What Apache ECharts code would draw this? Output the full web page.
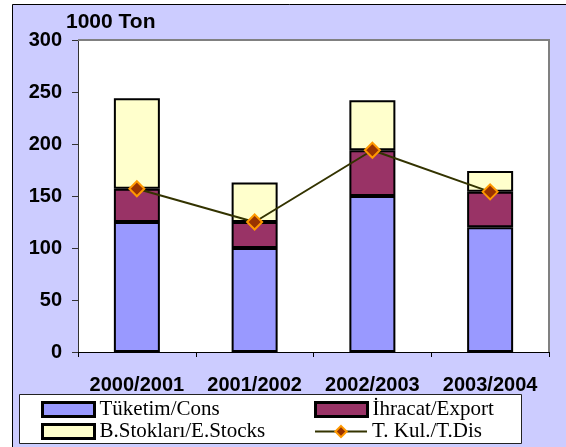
<!DOCTYPE html>
<html>
<head>
<meta charset="utf-8">
<script src="https://cdn.jsdelivr.net/npm/echarts@6/dist/echarts.min.js"></script>
<style>
html,body{margin:0;padding:0;background:#fff;}
#c{width:566px;height:447px;}
</style>
</head>
<body>
<div id="c"></div>
<script>
const categories = ['2000/2001', '2001/2002', '2002/2003', '2003/2004'];
const consumption = [125, 100, 150, 120];
const exportVals = [32, 25, 44, 34];
const stocks = [87, 38, 48, 20];
const totalDis = [157, 125, 194, 154];
const yTicks = [0, 50, 100, 150, 200, 250, 300];
const seriesNames = ['Tüketim/Cons', 'İhracat/Export', 'B.Stokları/E.Stocks', 'T. Kul./T.Dis'];

const chart = echarts.init(document.getElementById('c'), null, {renderer: 'canvas'});

const legendFont = {fontFamily: 'Liberation Serif', fontSize: 21, color: '#000'};
function mkLegend(name, left, top, isBar) {
  const l = {
    data: [isBar ? {name: name, icon: 'rect'} : name], left: left, top: top, padding: 0,
    itemWidth: 52, itemHeight: 14, itemGap: 0,
    textStyle: legendFont, selectedMode: false
  };
  if (isBar) l.itemStyle = {borderColor: '#000', borderWidth: 3};
  return l;
}
const barStyle = (c) => ({color: c, borderColor: '#000', borderWidth: 2});

const option = {
  animation: false,
  backgroundColor: '#fff',
  graphic: [
    {type: 'rect', z: -10, shape: {x: 12.5, y: 4.5, width: 560, height: 450},
     style: {fill: '#CCCCFF', stroke: '#000', lineWidth: 1}},
    {type: 'rect', z: -5, shape: {x: 78, y: 40, width: 471, height: 312},
     style: {fill: '#fff', stroke: null}},
    {type: 'polyline', z: 5, shape: {points: [[78, 40], [549, 40], [549, 352]]},
     style: {stroke: '#808080', lineWidth: 2, fill: null}},
    {type: 'rect', z: -4, shape: {x: 19.5, y: 394.5, width: 502, height: 49},
     style: {fill: '#fff', stroke: '#222', lineWidth: 1}},
    {type: 'text', left: 66, top: 12, z: 10,
     style: {text: '1000 Ton', font: 'bold 21px "Liberation Sans", Arial', fill: '#000'}}
  ],
  grid: {left: 78, right: 17, top: 40, bottom: 95, containLabel: false},
  legend: [
    mkLegend(seriesNames[0], 41, 399, true),
    mkLegend(seriesNames[1], 314, 399, true),
    mkLegend(seriesNames[2], 41, 421, true),
    mkLegend(seriesNames[3], 314, 421, false)
  ],
  xAxis: {
    type: 'category', data: categories,
    axisLine: {lineStyle: {color: '#000', width: 1}},
    axisTick: {show: true, length: 5, alignWithLabel: false, lineStyle: {color: '#000'}},
    axisLabel: {interval: 0, margin: 23, fontFamily: 'Liberation Sans', fontWeight: 'bold', fontSize: 20, color: '#000'},
    splitLine: {show: false}
  },
  yAxis: {
    type: 'value', min: 0, max: 300, interval: 50,
    axisLine: {show: true, lineStyle: {color: '#333', width: 1}},
    axisTick: {show: true, length: 6, lineStyle: {color: '#333'}},
    axisLabel: {margin: 16, fontFamily: 'Liberation Sans', fontWeight: 'bold', fontSize: 20, color: '#000',
      formatter: (v) => yTicks.includes(v) ? String(v) : ''},
    splitLine: {show: false}
  },
  series: [
    {name: seriesNames[0], type: 'bar', stack: 'a', data: consumption, barWidth: 46, itemStyle: barStyle('#9999FF')},
    {name: seriesNames[1], type: 'bar', stack: 'a', data: exportVals, barWidth: 46, itemStyle: barStyle('#993366')},
    {name: seriesNames[2], type: 'bar', stack: 'a', data: stocks, barWidth: 46, itemStyle: barStyle('#FFFFCC')},
    {name: seriesNames[3], type: 'line', data: totalDis, z: 10,
     symbol: 'diamond', symbolSize: 15, showSymbol: true,
     lineStyle: {color: '#333300', width: 2},
     itemStyle: {color: '#993300', borderColor: '#FF9900', borderWidth: 2}}
  ]
};
chart.setOption(option);
</script>
</body>
</html>
